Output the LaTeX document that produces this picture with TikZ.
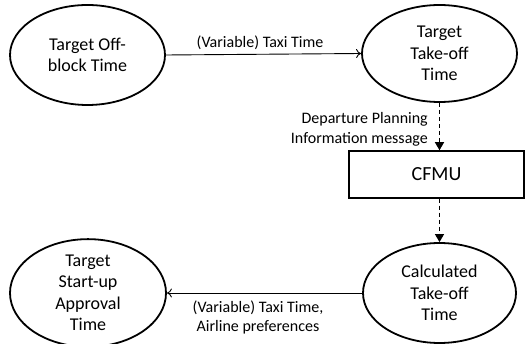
\documentclass[tikz,border=0pt]{standalone}
\usepackage{fontspec}
\setmainfont{Carlito}
\usetikzlibrary{shapes.geometric,arrows.meta}
\begin{document}
\begin{tikzpicture}[x=1pt,y=1pt,
  ell/.style={draw,ellipse,line width=1.8pt,inner sep=0pt,align=center,
    font=\fontsize{18}{21.5}\selectfont},
  lbl/.style={font=\fontsize{16}{19.5}\selectfont,inner sep=0pt},
  solidarr/.style={line width=0.9pt,-{To[length=5pt,width=9pt]}},
  dasharr/.style={line width=1.2pt,dash pattern=on 4pt off 3pt,-{Triangle[length=8pt,width=9pt]}}]
\useasboundingbox (0,0) rectangle (525,-344);
\node[ell,minimum width=155pt,minimum height=100pt] (tobt) at (87.5,-55) {Target Off-\\block Time};
\node[ell,minimum width=155pt,minimum height=97pt] (ttot) at (439.5,-53.5) {Target\\Take-off\\Time};
\node[draw,line width=1.5pt,minimum width=175pt,minimum height=47pt,inner sep=0pt,
  font=\fontsize{20}{24}\selectfont] (cfmu) at (436.5,-174.5) {CFMU};
\node[ell,minimum width=153pt,minimum height=100pt] (ctot) at (439.5,-293) {Calculated\\Take-off\\Time};
\node[ell,minimum width=156pt,minimum height=100pt] (tsat) at (88,-293) {Target\\Start-up\\Approval\\Time};
\draw[solidarr] (tobt.east) -- (ttot.west);
\draw[solidarr] (ctot.west) -- (tsat.east);
\draw[dasharr] (ttot.south) -- (ttot.south |- cfmu.north);
\draw[dasharr] (cfmu.south -| ctot.north) -- (ctot.north);
\node[lbl] (l1) at (260,-43) {(Variable) Taxi Time};
\node[lbl,align=right,anchor=east] (l2) at (428,-129.5) {Departure Planning\\Information message};
\node[lbl,align=center] (l3) at (258,-317.5) {(Variable) Taxi Time,\\Airline preferences};
\end{tikzpicture}
\end{document}
